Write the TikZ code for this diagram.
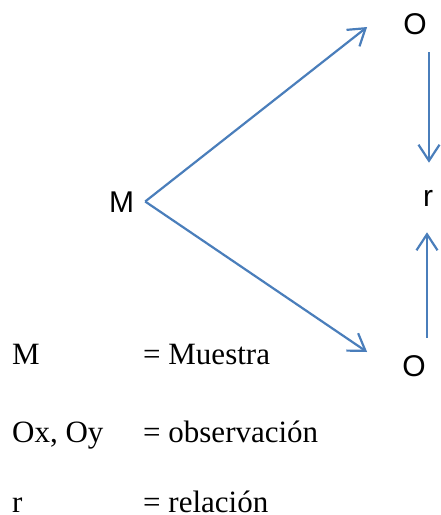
\documentclass[tikz,border=0pt]{standalone}
\usepackage{fontspec}
\setmainfont{Liberation Serif}
\newfontfamily\diagfont{Liberation Sans}
\usepackage{tikz}
\usetikzlibrary{arrows.meta, positioning}
\definecolor{flechablue}{RGB}{74, 126, 187}

\begin{document}
\begin{tikzpicture}[x=1pt, y=-1pt,
    var/.style={inner sep=0pt, font=\diagfont\fontsize{30}{35}\selectfont},
    leyenda/.style={inner sep=0pt, anchor=base west, font=\fontsize{31}{36}\selectfont},
    flecha/.style={-{Straight Barb[length=16pt, width=21pt]}, line width=2.2pt, flechablue}]
  \useasboundingbox (0,0) rectangle (440,515);
  % variables
  \node[var] (M) at (121.5,202.5) {M};
  \node[var] (Ox) at (415,24) {O};
  \node[var] (Oy) at (414,366) {O};
  \node[var] (r) at (428,198) {r};
  % arrows
  \draw[flecha] ([xshift=11pt, yshift=1pt]M.east) -- ([xshift=-36pt, yshift=-3pt]Ox.west);
  \draw[flecha] ([xshift=11pt, yshift=1pt]M.east) -- ([xshift=-35pt, yshift=14pt]Oy.west);
  \draw[flecha] ([xshift=14pt, yshift=-17.5pt]Ox.south) -- ([xshift=1pt, yshift=27pt]r.north);
  \draw[flecha] ([xshift=13pt, yshift=17.5pt]Oy.north) -- ([xshift=-1pt, yshift=-26pt]r.south);
  % legend
  \node[leyenda] (lM) at (12,364) {M};
  \node[leyenda] (lMd) at (143,364) {= Muestra};
  \node[leyenda] (lO) at (12,442) {Ox, Oy};
  \node[leyenda] (lOd) at (143,442) {= observación};
  \node[leyenda] (lr) at (12,512) {r};
  \node[leyenda] (lrd) at (143,512) {= relación};
\end{tikzpicture}
\end{document}
